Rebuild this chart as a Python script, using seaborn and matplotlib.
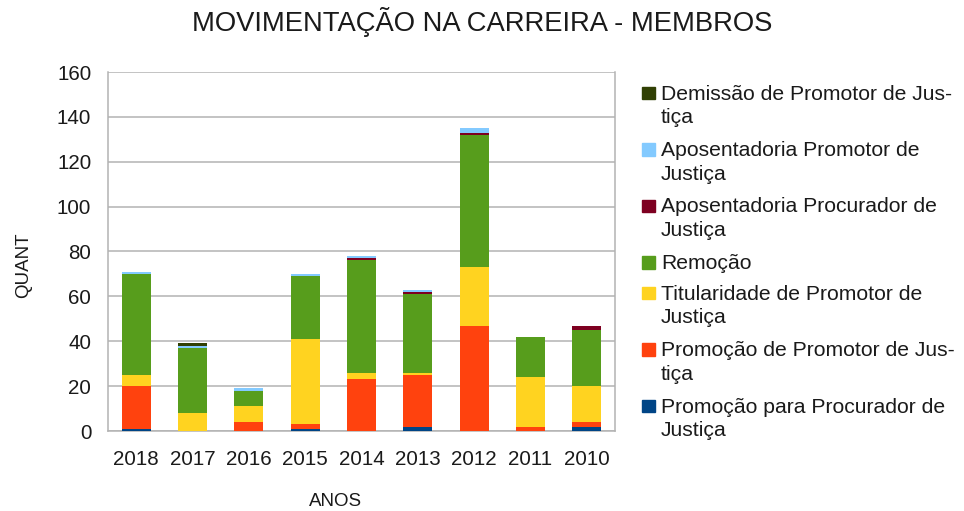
import matplotlib
matplotlib.use("Agg")
import matplotlib.pyplot as plt
import seaborn as sns
import pandas as pd
import numpy as np
from matplotlib.patches import Rectangle

# Values
years = ["2018", "2017", "2016", "2015", "2014", "2013", "2012", "2011", "2010"]
promocao_procurador = [1, 0, 0, 1, 0, 2, 0, 0, 2]
promocao_promotor = [19, 0, 4, 2, 23, 23, 47, 2, 2]
titularidade = [5, 8, 7, 38, 3, 1, 26, 22, 16]
remocao = [45, 29, 7, 28, 50, 35, 59, 18, 25]
apos_procurador = [0, 0, 0, 0, 1, 1, 1, 0, 2]
apos_promotor = [1, 1, 1, 1, 1, 1, 2, 0, 0]
demissao = [0, 1, 0, 0, 0, 0, 0, 0, 0]

# stacking order, bottom to top
series_names = [
    "Promoção para Procurador de\nJustiça",
    "Promoção de Promotor de Jus-\ntiça",
    "Titularidade de Promotor de\nJustiça",
    "Remoção",
    "Aposentadoria Procurador de\nJustiça",
    "Aposentadoria Promotor de\nJustiça",
    "Demissão de Promotor de Jus-\ntiça",
]
series_values = [promocao_procurador, promocao_promotor, titularidade, remocao,
                 apos_procurador, apos_promotor, demissao]
colors = ["#004586", "#ff420e", "#ffd320", "#579d1c", "#7e0021", "#83caff", "#314004"]

sns.set_theme(style="white")
plt.rcParams["font.family"] = ["Liberation Sans", "DejaVu Sans"]

df = pd.DataFrame({"Ano": years})
cum = np.zeros(len(years))
for name, vals in zip(series_names, series_values):
    cum = cum + np.array(vals)
    df[name] = cum.copy()

fig = plt.figure(figsize=(9.64, 5.11), dpi=100)
ax = fig.add_axes([108 / 964, 1 - 431 / 511, 507 / 964, 359 / 511])

# draw cumulative totals from the top of the stack down
for name, color in reversed(list(zip(series_names, colors))):
    sns.barplot(data=df, x="Ano", y=name, color=color, order=years,
                width=0.52, saturation=1, linewidth=0, ax=ax, zorder=3)

grid_c = "#b3b3b3"
text_c = "#1a1a1a"
ax.set_ylim(0, 160)
ax.set_xlim(-0.5, len(years) - 0.5)
ax.set_yticks(range(0, 161, 20))
ax.yaxis.grid(True, color=grid_c, linewidth=1.1, zorder=0)
ax.set_axisbelow(True)
for side in ["left", "right", "bottom"]:
    ax.spines[side].set_color(grid_c)
    ax.spines[side].set_linewidth(1.1)
ax.spines["top"].set_visible(False)

ax.set_xticks(np.arange(-0.5, len(years), 1), minor=True)
ax.tick_params(axis="x", which="major", length=0, labelsize=14.8, pad=14, colors=text_c)
ax.tick_params(axis="x", which="minor", length=8, width=1.1, color=grid_c)
ax.tick_params(axis="y", length=8, width=1.1, color=grid_c, labelsize=14.8, pad=4, labelcolor=text_c)

ax.set_xlabel("ANOS", fontsize=13.5, color=text_c)
ax.set_ylabel("QUANT", fontsize=13.5, color=text_c)
ax.xaxis.set_label_coords((336 - 108) / 507, (431 - 493) / 359)
ax.yaxis.set_label_coords((32 - 108) / 507, (431 - 265) / 359)

fig.text(0.5, 1 - 22 / 511, "MOVIMENTAÇÃO NA CARREIRA - MEMBROS",
         ha="center", va="center", fontsize=19.7, color=text_c)

# legend, top entry first
y_px = 93
for name, color in reversed(list(zip(series_names, colors))):
    fig.add_artist(Rectangle((642 / 964, 1 - (y_px + 6.3) / 511), 12.6 / 964, 12.6 / 511,
                             transform=fig.transFigure, color=color))
    fig.text(661 / 964, 1 - (y_px - 8.5) / 511, name, ha="left", va="top",
             fontsize=15.2, linespacing=1.33, color=text_c)
    nlines = name.count("\n") + 1
    y_px += 30.5 + 26 * (nlines - 1)

fig.savefig("out.png", dpi=100)
